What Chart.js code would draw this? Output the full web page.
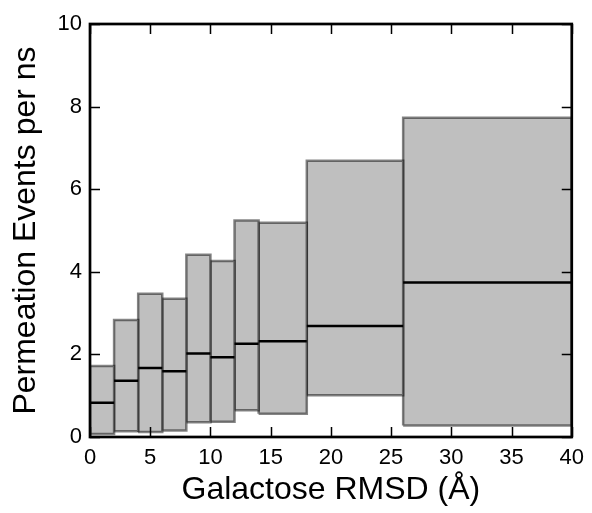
<!DOCTYPE html>
<html>
<head>
<meta charset="UTF-8">
<title>Permeation Events vs Galactose RMSD</title>
<script src="https://cdn.jsdelivr.net/npm/chart.js"></script>
<style>
  html, body { margin: 0; padding: 0; background: #fff; }
  #wrap { width: 592px; height: 513px; }
</style>
</head>
<body>
<div id="wrap"><canvas id="chart"></canvas></div>
<script>
    // bin edges along RMSD (Å) and the box values per bin
    const binEdges = [0, 2, 4, 6, 8, 10, 12, 14, 18, 26, 40];
    const upperVals = [1.72, 2.83, 3.47, 3.35, 4.41, 4.26, 5.24, 5.19, 6.69, 7.73];
    const lowerVals = [0.07, 0.14, 0.12, 0.16, 0.36, 0.37, 0.65, 0.56, 1.01, 0.28];
    const medianVals = [0.83, 1.36, 1.67, 1.59, 2.02, 1.93, 2.26, 2.32, 2.69, 3.74];

    const fontFamily = "'Liberation Sans', Arial, Helvetica, sans-serif";

    // one closed shape per bin
    const datasets = [];
    for (let i = 0; i < medianVals.length; i++) {
        const x0 = binEdges[i], x1 = binEdges[i + 1];
        datasets.push({
            data: [
                {x: x0, y: lowerVals[i]},
                {x: x0, y: upperVals[i]},
                {x: x1, y: upperVals[i]},
                {x: x1, y: lowerVals[i]},
                {x: x0, y: lowerVals[i]}
            ],
            fill: 'shape',
            backgroundColor: '#bfbfbf',
            borderColor: 'rgba(0,0,0,0.48)',
            borderWidth: 2.5,
            pointRadius: 0,
            tension: 0,
            order: 2
        });
    }

    // median lines, broken between bins
    const medianPts = [];
    for (let i = 0; i < medianVals.length; i++) {
        medianPts.push({x: binEdges[i], y: medianVals[i]});
        medianPts.push({x: binEdges[i + 1], y: medianVals[i]});
        medianPts.push({x: binEdges[i + 1], y: null});
    }
    datasets.push({
        data: medianPts,
        borderColor: '#000',
        borderWidth: 2.5,
        pointRadius: 0,
        fill: false,
        spanGaps: false,
        order: 1
    });

    // frame and inward ticks on all four sides
    const framePlugin = {
        id: 'frame',
        afterDatasetsDraw(chart) {
            const {ctx, chartArea: a, scales: {x, y}} = chart;
            const tl = 10;
            ctx.save();
            ctx.strokeStyle = '#000';
            ctx.lineWidth = 1.5;
            ctx.beginPath();
            x.ticks.forEach(t => {
                const px = Math.round(x.getPixelForValue(t.value)) + 0.5;
                ctx.moveTo(px, a.bottom); ctx.lineTo(px, a.bottom - tl);
                ctx.moveTo(px, a.top); ctx.lineTo(px, a.top + tl);
            });
            y.ticks.forEach(t => {
                const py = Math.round(y.getPixelForValue(t.value)) + 0.5;
                ctx.moveTo(a.left, py); ctx.lineTo(a.left + tl, py);
                ctx.moveTo(a.right, py); ctx.lineTo(a.right - tl, py);
            });
            ctx.stroke();
            ctx.lineWidth = 2.7;
            ctx.strokeRect(a.left, a.top, a.right - a.left, a.bottom - a.top);
            ctx.restore();
        }
    };

    new Chart(document.getElementById('chart').getContext('2d'), {
        type: 'line',
        data: { datasets: datasets },
        options: {
            responsive: true,
            maintainAspectRatio: false,
            animation: false,
            layout: { padding: { top: 24, right: 18, left: 0, bottom: 0 } },
            plugins: {
                legend: { display: false },
                tooltip: { enabled: false }
            },
            scales: {
                x: {
                    type: 'linear',
                    min: 0,
                    max: 40,
                    afterFit: s => { s.height = 76; },
                    grid: { display: false, drawTicks: false },
                    border: { display: false },
                    ticks: {
                        stepSize: 5,
                        padding: 8,
                        color: '#000',
                        font: { family: fontFamily, size: 22 }
                    },
                    title: {
                        display: true,
                        text: 'Galactose RMSD (Å)',
                        color: '#000',
                        font: { family: fontFamily, size: 32 },
                        padding: { top: 0, bottom: 4 }
                    }
                },
                y: {
                    min: 0,
                    max: 10,
                    afterFit: s => { s.width = 90; },
                    grid: { display: false, drawTicks: false },
                    border: { display: false },
                    ticks: {
                        stepSize: 2,
                        padding: 8,
                        color: '#000',
                        font: { family: fontFamily, size: 22 }
                    },
                    title: {
                        display: true,
                        text: 'Permeation Events per ns',
                        color: '#000',
                        font: { family: fontFamily, size: 32 },
                        padding: { top: 7, bottom: 0 }
                    }
                }
            }
        },
        plugins: [framePlugin]
    });
</script>
</body>
</html>
